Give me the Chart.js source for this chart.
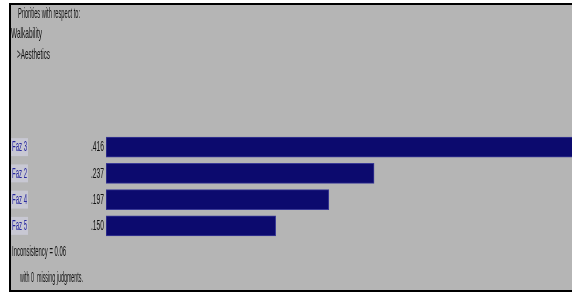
<!DOCTYPE html>
<html><head><meta charset="utf-8">
<script src="https://cdn.jsdelivr.net/npm/chart.js@4"></script>
<style>
html,body{margin:0;padding:0;background:#fff;width:572px;height:293px;overflow:hidden}
#frame{position:absolute;left:9px;top:3px;width:570px;height:285px;background:#b5b5b5;border-left:2px solid #000;border-top:2px solid #000;border-bottom:2px solid #000;}
#wrap{position:absolute;left:0;top:0;width:572px;height:293px}
</style></head><body>
<div id="frame"></div>
<div id="wrap"><canvas id="c" width="572" height="293"></canvas></div>
<script>
const categories = ['Faz 3', 'Faz 2', 'Faz 4', 'Faz 5'];
const priorities = [0.416, 0.237, 0.197, 0.150];
const headerLines = ['Priorities with respect to:', 'Walkability', '>Aesthetics'];
const footerLines = ['Inconsistency = 0.06', 'with 0  missing judgments.'];

function drawText(ctx, str, x, yMid, w, size, color) {
  ctx.save();
  ctx.font = size + 'px "Liberation Sans", Arial, sans-serif';
  const m = ctx.measureText(str).width;
  ctx.translate(x, yMid);
  ctx.scale(w / m, 1);
  ctx.textBaseline = 'middle';
  ctx.textAlign = 'left';
  ctx.fillStyle = color;
  ctx.fillText(str, 0, 0);
  ctx.restore();
}

const textPlugin = {
  id: 'texts',
  afterDraw(chart) {
    const ctx = chart.ctx;
    const y = chart.scales.y;
    const hdr = [[18, 14, 62], [11, 34, 31], [17, 55, 33]];
    headerLines.forEach((s, i) => drawText(ctx, s, hdr[i][0], hdr[i][1], hdr[i][2], 15, '#111'));
    categories.forEach((c, i) => {
      const py = y.getPixelForValue(i);
      ctx.save();
      ctx.fillStyle = 'rgba(215,215,235,0.55)';
      ctx.fillRect(11, py - 9, 17, 18);
      ctx.restore();
      drawText(ctx, c, 12, py, 15, 15, '#2a2aa0');
      const lbl = priorities[i].toFixed(3).slice(1);
      drawText(ctx, lbl, 91, py, 13, 15, '#111');
    });
    const ftr = [[12, 252, 54], [20, 278, 63]];
    footerLines.forEach((s, i) => drawText(ctx, s, ftr[i][0], ftr[i][1], ftr[i][2], 15, '#111'));
  }
};

new Chart(document.getElementById('c'), {
  type: 'bar',
  data: {
    labels: categories,
    datasets: [{
      data: priorities,
      backgroundColor: '#0c0a6e',
      borderColor: '#3a3a96',
      borderWidth: 1,
      barThickness: 20,
      borderSkipped: false
    }]
  },
  options: {
    indexAxis: 'y',
    responsive: false,
    devicePixelRatio: 1,
    animation: false,
    layout: { padding: { left: 106, right: 0, top: 134, bottom: 54 } },
    scales: {
      x: { display: false, min: 0, max: 0.412 },
      y: { display: false }
    },
    plugins: { legend: { display: false }, tooltip: { enabled: false } }
  },
  plugins: [textPlugin]
});
</script>
</body></html>
